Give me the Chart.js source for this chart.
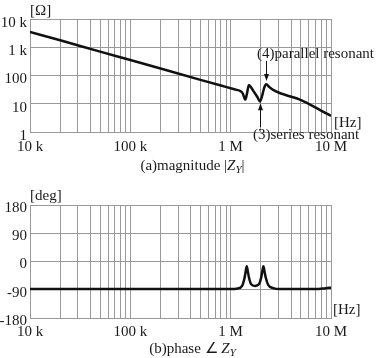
<!DOCTYPE html>
<html>
<head>
<meta charset="utf-8">
<script src="https://cdn.jsdelivr.net/npm/chart.js@4"></script>
<style>
  body { margin: 0; background: #fff; }
  #wrap { position: relative; width: 381px; height: 358px; overflow: hidden;
          font-family: "Liberation Serif", "Times New Roman", serif; color: #1a1a1a; }
  canvas { position: absolute; left: 0; }
  .lbl { position: absolute; white-space: nowrap; font-size: 15px; line-height: 16px; }
  .cap { position: absolute; left: 2px; width: 381px; text-align: center; font-size: 15px; line-height: 16px; }
  .sub { font-size: 11px; position: relative; top: 3px; font-style: italic; }
</style>
</head>
<body>
<div id="wrap">
  <canvas id="mag" width="381" height="180" style="top:0"></canvas>
  <canvas id="phase" width="381" height="178" style="top:180px"></canvas>
  <div class="lbl" style="left:30px;top:2px">[Ω]</div>
  <div class="lbl" style="left:257px;top:45px">(4)parallel resonant</div>
  <div class="lbl" style="left:334px;top:114px">[Hz]</div>
  <div class="lbl" style="left:253px;top:126px">(3)series resonant</div>
  <div class="cap" style="top:157px">(a)magnitude |<i>Z</i><span class="sub">Y</span>|</div>
  <div class="lbl" style="left:30px;top:187px">[deg]</div>
  <div class="lbl" style="left:333px;top:301px">[Hz]</div>
  <div class="cap" style="top:340px">(b)phase ∠ <i>Z</i><span class="sub">Y</span></div>
</div>
<script>
// axis ticks
const decadeFreqs = [1e4, 1e5, 1e6, 1e7];
const freqTickLabels = ["10 k", "100 k", "1 M", "10 M"];
const magTickValues = [1, 10, 100, 1000, 10000];
const magTickLabels = ["1", "10", "100", "1 k", "10 k"];
const phaseTickValues = [-180, -90, 0, 90, 180];

// |Z|
const magFreqs = [1e4, 2e4, 5e4, 1e5, 2e5, 5e5, 8e5, 1.0e6, 1.15e6, 1.25e6, 1.32e6, 1.37e6, 1.40e6,
  1.45e6, 1.52e6, 1.58e6, 1.7e6, 1.85e6, 1.96e6, 2.05e6, 2.15e6, 2.25e6, 2.45e6, 2.65e6,
  3.0e6, 3.6e6, 4.9e6, 7.5e6, 1e7];
const magValues = [3500, 1760, 700, 352, 176, 70, 44, 35.5, 31, 28, 23, 16, 14,
  22, 46, 40, 27, 17, 12, 18, 35, 49, 38, 31,
  25, 20, 14, 6.5, 3.7];

// phase [deg]
const phaseFreqs = [1e4, 1e6, 1.18e6, 1.30e6, 1.376e6, 1.414e6, 1.446e6, 1.48e6, 1.524e6, 1.596e6,
  1.75e6, 1.92e6, 2.01e6, 2.07e6, 2.12e6, 2.17e6, 2.24e6, 2.36e6, 2.65e6, 3.1e6,
  7e6, 8.5e6, 9.5e6, 1e7];
const phaseValues = [-88, -88, -86, -78, -52, -30, -15, -30, -52, -72,
  -78, -72, -52, -30, -15, -30, -52, -74, -85, -88,
  -88, -86, -84, -84];

// resonance arrows (freq, tail value, tip value)
const parallelArrow = { freq: 2.27e6, from: 330, to: 64 };
const seriesArrow = { freq: 1.97e6, from: 1.5, to: 10.5 };

const GRID = "#999999";
const FONT = { family: "Liberation Serif", size: 15 };

const gridFreqs = [];
decadeFreqs.forEach((d, i) => {
  if (i === decadeFreqs.length - 1) { gridFreqs.push(d); return; }
  for (let k = 1; k <= 9; k++) gridFreqs.push(k * d);
});

const arrowPlugin = {
  id: "arrows",
  afterDatasetsDraw(chart, args, opts) {
    const { ctx, scales } = chart;
    (opts.items || []).forEach((a) => {
      const px = Math.round(scales.x.getPixelForValue(a.freq)) + 0.5;
      const y0 = scales.y.getPixelForValue(a.from);
      const y1 = scales.y.getPixelForValue(a.to);
      const dir = y1 > y0 ? 1 : -1;
      ctx.save();
      ctx.strokeStyle = "#111";
      ctx.fillStyle = "#111";
      ctx.lineWidth = 1;
      ctx.beginPath();
      ctx.moveTo(px, y0);
      ctx.lineTo(px, y1 - dir * 5);
      ctx.stroke();
      ctx.beginPath();
      ctx.moveTo(px, y1);
      ctx.lineTo(px - 2.5, y1 - dir * 7);
      ctx.lineTo(px + 2.5, y1 - dir * 7);
      ctx.closePath();
      ctx.fill();
      ctx.restore();
    });
  },
};

function points(xs, ys) {
  return xs.map((x, i) => ({ x, y: ys[i] }));
}

function xAxis(pad, height) {
  return {
    type: "logarithmic", min: 1e4, max: 1e7,
    afterBuildTicks: (s) => { s.ticks = gridFreqs.map((v) => ({ value: v })); },
    afterFit: (s) => { s.height = height; },
    grid: { color: GRID, lineWidth: 1, drawTicks: false },
    border: { color: GRID },
    ticks: {
      autoSkip: false, maxRotation: 0, minRotation: 0, padding: pad, color: "#1a1a1a", font: FONT,
      callback: (v) => { const i = decadeFreqs.indexOf(v); return i >= 0 ? freqTickLabels[i] : ""; },
    },
  };
}

function makeChart(id, data, yScale, padTop, xPad, xHeight, arrows) {
  return new Chart(document.getElementById(id), {
    type: "line",
    data: {
      datasets: [{
        data, borderColor: "#111", borderWidth: 2.5, pointRadius: 0,
        cubicInterpolationMode: "monotone", fill: false,
      }],
    },
    options: {
      responsive: false, animation: false, events: [],
      layout: { padding: { left: 0, right: 50, top: padTop, bottom: 0 } },
      plugins: { legend: { display: false }, tooltip: { enabled: false }, arrows: { items: arrows } },
      scales: { x: xAxis(xPad, xHeight), y: yScale },
    },
    plugins: [arrowPlugin],
  });
}

const magY = {
  type: "logarithmic", min: 1, max: 10000,
  afterBuildTicks: (s) => { s.ticks = magTickValues.map((v) => ({ value: v })); },
  afterFit: (s) => { s.width = 30; },
  grid: { color: GRID, lineWidth: 1, drawTicks: false },
  border: { color: GRID },
  ticks: {
    padding: 3, labelOffset: 4, color: "#1a1a1a", font: FONT,
    callback: (v) => { const i = magTickValues.indexOf(v); return i >= 0 ? magTickLabels[i] : ""; },
  },
};

const phaseY = {
  type: "linear", min: -180, max: 180,
  afterBuildTicks: (s) => { s.ticks = phaseTickValues.map((v) => ({ value: v })); },
  afterFit: (s) => { s.width = 30; },
  grid: { color: GRID, lineWidth: 1, drawTicks: false },
  border: { color: GRID },
  ticks: { padding: 3, labelOffset: 3, color: "#1a1a1a", font: FONT, callback: (v) => String(v) },
};

makeChart("mag", points(magFreqs, magValues), magY, 19, 6, 48, [parallelArrow, seriesArrow]);
makeChart("phase", points(phaseFreqs, phaseValues), phaseY, 25, 5, 40, []);
</script>
</body>
</html>
